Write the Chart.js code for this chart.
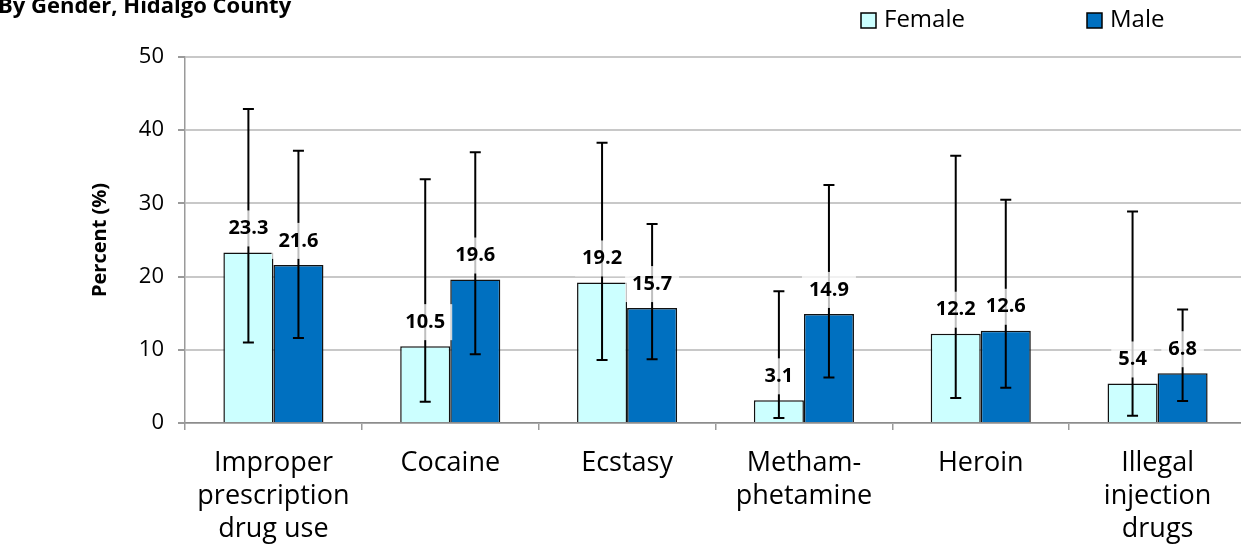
<!DOCTYPE html>
<html>
<head>
<meta charset="utf-8">
<title>Drug use by gender, Hidalgo County</title>
<script src="https://cdn.jsdelivr.net/npm/chart.js@4"></script>
<style>
    body { margin: 0; background: #fff; overflow: hidden; }
    #wrap { width: 1246px; height: 544px; }
</style>
</head>
<body>
<div id="wrap"><canvas id="drugChart" width="1246" height="544"></canvas></div>
<script>

// data
let categories = [
    ["Improper", "prescription", "drug use"],
    "Cocaine",
    "Ecstasy",
    ["Metham-", "phetamine"],
    "Heroin",
    ["Illegal", "injection", "drugs"]
];

let female = [23.3, 10.5, 19.2, 3.1, 12.2, 5.4];
let femaleLow = [11.0, 2.9, 8.6, 0.7, 3.4, 1.0];
let femaleHigh = [42.9, 33.3, 38.3, 18.0, 36.5, 28.9];

let male = [21.6, 19.6, 15.7, 14.9, 12.6, 6.8];
let maleLow = [11.6, 9.4, 8.7, 6.2, 4.8, 3.0];
let maleHigh = [37.2, 37.0, 27.2, 32.5, 30.5, 15.5];

let yTicks = [0, 10, 20, 30, 40, 50];

const font = "'Open Sans', sans-serif";


// error bars, value labels, title and legend
const extras = {
    id: "extras",

    afterDatasetsDraw(chart) {
        const ctx = chart.ctx;
        const yScale = chart.scales.y;

        ctx.save();
        ctx.strokeStyle = "#000";
        ctx.lineWidth = 2;

        chart.data.datasets.forEach(function (ds, i) {
            chart.getDatasetMeta(i).data.forEach(function (bar, j) {
                let top = yScale.getPixelForValue(ds.high[j]);
                let bottom = yScale.getPixelForValue(ds.low[j]);
                ctx.beginPath();
                ctx.moveTo(bar.x, top);
                ctx.lineTo(bar.x, bottom);
                ctx.moveTo(bar.x - 5.5, top);
                ctx.lineTo(bar.x + 5.5, top);
                ctx.moveTo(bar.x - 5.5, bottom);
                ctx.lineTo(bar.x + 5.5, bottom);
                ctx.stroke();
            });
        });

        ctx.font = "bold 20px " + font;
        ctx.textAlign = "center";
        ctx.textBaseline = "middle";

        chart.data.datasets.forEach(function (ds, i) {
            chart.getDatasetMeta(i).data.forEach(function (bar, j) {
                let text = ds.data[j].toFixed(1);
                let w = ctx.measureText(text).width + 14;
                let cy = bar.y - 24;
                ctx.fillStyle = "rgba(255,255,255,0.75)";
                ctx.fillRect(bar.x - w / 2, cy - 18, w, 36);
                ctx.fillStyle = "#000";
                ctx.fillText(text, bar.x, cy);
            });
        });

        ctx.restore();
    },

    afterDraw(chart) {
        const ctx = chart.ctx;
        ctx.save();

        ctx.fillStyle = "#000";
        ctx.font = "bold 22px " + font;
        ctx.textAlign = "left";
        ctx.textBaseline = "alphabetic";
        ctx.fillText("By Gender, Hidalgo County", -2, 13);

        let legendX = [861, 1087];
        ctx.font = "24px " + font;
        ctx.textBaseline = "middle";
        chart.data.datasets.forEach(function (ds, i) {
            let x = legendX[i];
            ctx.fillStyle = ds.backgroundColor;
            ctx.fillRect(x, 13, 15, 15);
            ctx.strokeStyle = "#000";
            ctx.lineWidth = 1.5;
            ctx.strokeRect(x, 13, 15, 15);
            ctx.fillStyle = "#000";
            ctx.fillText(ds.label, x + 23, 20);
        });

        ctx.restore();
    }
};


const ctx = document.getElementById("drugChart");

new Chart(ctx, {
    type: "bar",

    data: {
        labels: categories,

        datasets: [{
            label: "Female",
            data: female,
            low: femaleLow,
            high: femaleHigh,
            backgroundColor: "#ccffff",
            borderColor: "#111",
            borderWidth: 1.5
        }, {
            label: "Male",
            data: male,
            low: maleLow,
            high: maleHigh,
            backgroundColor: "#0070c0",
            borderColor: "#111",
            borderWidth: 1.5
        }]
    },

    options: {
        responsive: false,
        devicePixelRatio: 1,
        animation: false,

        categoryPercentage: 0.566,
        barPercentage: 1,

        layout: {
            padding: { top: 57, right: 0, bottom: 0, left: 0 }
        },

        plugins: {
            legend: { display: false },
            tooltip: { enabled: false }
        },

        scales: {
            x: {
                offset: true,
                grid: {
                    offset: true,
                    drawOnChartArea: false,
                    drawTicks: true,
                    tickLength: 7,
                    color: "#9a9a9a",
                    lineWidth: 1.5
                },
                border: { color: "#8c8c8c", width: 1.5 },
                ticks: {
                    color: "#000",
                    padding: 17,
                    maxRotation: 0,
                    autoSkip: false,
                    font: { family: font, size: 27, lineHeight: 1.22 }
                },
                afterFit: function (scale) {
                    scale.height = 121;
                }
            },

            y: {
                min: 0,
                max: 50,
                afterBuildTicks: function (scale) {
                    scale.ticks = yTicks.map(function (v) { return { value: v }; });
                },
                grid: {
                    color: "#c8c8c8",
                    lineWidth: 2,
                    tickLength: 7,
                    tickColor: "#9a9a9a"
                },
                border: { color: "#9a9a9a", width: 1.5 },
                ticks: {
                    color: "#000",
                    padding: 14,
                    font: { family: font, size: 22 }
                },
                title: {
                    display: true,
                    text: "Percent (%)",
                    color: "#000",
                    padding: { top: 88, bottom: 0 },
                    font: { family: font, size: 20, weight: "bold", lineHeight: 1.2 }
                },
                afterFit: function (scale) {
                    scale.width = 185;
                }
            }
        }
    },

    plugins: [extras]
});

</script>
</body>
</html>
